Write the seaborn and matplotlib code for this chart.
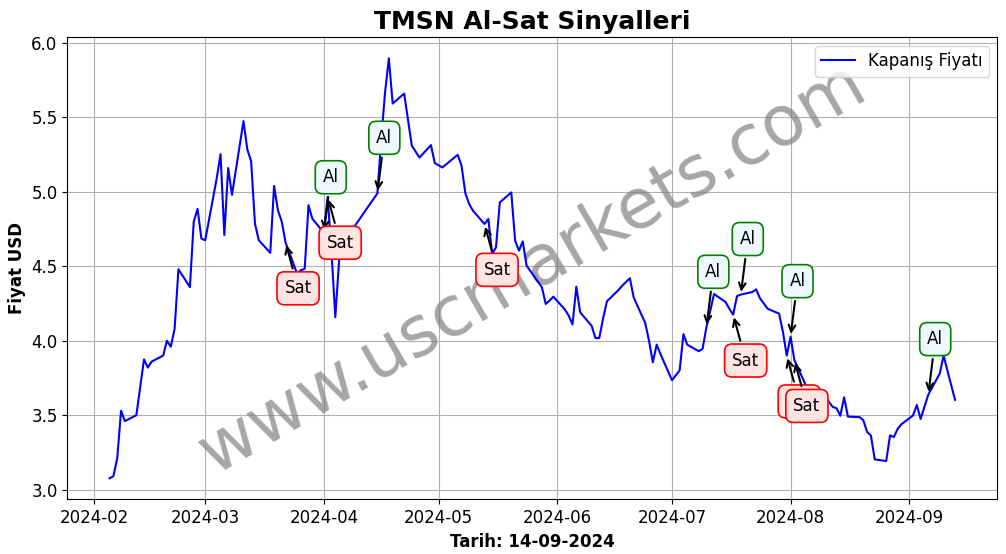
import matplotlib
matplotlib.use("Agg")
import matplotlib.pyplot as plt
import seaborn as sns
import pandas as pd

dates = [
    "2024-02-05", "2024-02-06", "2024-02-07", "2024-02-08", "2024-02-09",
    "2024-02-12", "2024-02-14", "2024-02-15", "2024-02-16", "2024-02-19",
    "2024-02-20", "2024-02-21", "2024-02-22", "2024-02-23", "2024-02-26",
    "2024-02-27", "2024-02-28", "2024-02-29", "2024-03-01", "2024-03-04",
    "2024-03-05", "2024-03-06", "2024-03-07", "2024-03-08", "2024-03-11",
    "2024-03-12", "2024-03-13", "2024-03-14", "2024-03-15", "2024-03-18",
    "2024-03-19", "2024-03-20", "2024-03-21", "2024-03-22", "2024-03-25",
    "2024-03-26", "2024-03-27", "2024-03-28", "2024-03-29", "2024-04-01",
    "2024-04-02", "2024-04-03", "2024-04-04", "2024-04-05", "2024-04-08",
    "2024-04-15", "2024-04-16", "2024-04-17", "2024-04-18", "2024-04-19",
    "2024-04-22", "2024-04-24", "2024-04-26", "2024-04-29", "2024-04-30",
    "2024-05-02", "2024-05-06", "2024-05-07", "2024-05-08", "2024-05-09",
    "2024-05-10", "2024-05-13", "2024-05-14", "2024-05-15", "2024-05-16",
    "2024-05-17", "2024-05-20", "2024-05-21", "2024-05-22", "2024-05-23",
    "2024-05-24", "2024-05-28", "2024-05-29", "2024-05-30", "2024-05-31",
    "2024-06-03", "2024-06-04", "2024-06-05", "2024-06-06", "2024-06-07",
    "2024-06-10", "2024-06-11", "2024-06-12", "2024-06-13", "2024-06-14",
    "2024-06-17", "2024-06-18", "2024-06-20", "2024-06-21", "2024-06-24",
    "2024-06-25", "2024-06-26", "2024-06-27", "2024-06-28", "2024-07-01",
    "2024-07-03", "2024-07-04", "2024-07-05", "2024-07-08", "2024-07-09",
    "2024-07-10", "2024-07-11", "2024-07-12", "2024-07-15", "2024-07-16",
    "2024-07-17", "2024-07-18", "2024-07-19", "2024-07-22", "2024-07-23",
    "2024-07-24", "2024-07-25", "2024-07-26", "2024-07-29", "2024-07-30",
    "2024-07-31", "2024-08-01", "2024-08-02", "2024-08-05", "2024-08-06",
    "2024-08-07", "2024-08-08", "2024-08-09", "2024-08-12", "2024-08-13",
    "2024-08-14", "2024-08-15", "2024-08-16", "2024-08-19", "2024-08-20",
    "2024-08-21", "2024-08-22", "2024-08-23", "2024-08-26", "2024-08-27",
    "2024-08-28", "2024-08-29", "2024-08-30", "2024-09-02", "2024-09-03",
    "2024-09-04", "2024-09-05", "2024-09-06", "2024-09-09", "2024-09-10",
    "2024-09-11", "2024-09-12", "2024-09-13",
]

prices = [
    3.076, 3.09, 3.21, 3.53, 3.46,
    3.50, 3.875, 3.82, 3.86, 3.90,
    4.00, 3.96, 4.08, 4.48, 4.36,
    4.80, 4.886, 4.686, 4.675, 5.09,
    5.253, 4.71, 5.16, 4.98, 5.475,
    5.285, 5.206, 4.787, 4.675, 4.59,
    5.04, 4.877, 4.80, 4.66, 4.452,
    4.474, 4.483, 4.91, 4.82, 4.725,
    4.966, 4.60, 4.158, 4.54, 4.73,
    4.99, 5.35, 5.667, 5.897, 5.593,
    5.66, 5.31, 5.23, 5.314, 5.193,
    5.164, 5.249, 5.175, 4.99, 4.918,
    4.873, 4.784, 4.818, 4.583, 4.627,
    4.929, 4.996, 4.672, 4.605, 4.667,
    4.504, 4.359, 4.247, 4.27, 4.296,
    4.21, 4.169, 4.109, 4.363, 4.191,
    4.10, 4.018, 4.018, 4.15, 4.265,
    4.34, 4.37, 4.42, 4.29, 4.12,
    4.00, 3.855, 3.974, 3.91, 3.735,
    3.80, 4.044, 3.973, 3.93, 3.945,
    4.09, 4.20, 4.314, 4.26, 4.215,
    4.175, 4.30, 4.31, 4.327, 4.345,
    4.285, 4.25, 4.215, 4.182, 4.06,
    3.90, 4.027, 3.87, 3.70, 3.62,
    3.63, 3.69, 3.66, 3.556, 3.547,
    3.496, 3.62, 3.49, 3.487, 3.467,
    3.388, 3.364, 3.203, 3.192, 3.364,
    3.353, 3.408, 3.44, 3.498, 3.569,
    3.475, 3.556, 3.638, 3.78, 3.90,
    3.80, 3.70, 3.603,
]

buy_dates = ["2024-04-01", "2024-04-15", "2024-07-10", "2024-07-19", "2024-08-01", "2024-09-06"]
sell_dates = ["2024-03-22", "2024-04-02", "2024-05-13", "2024-07-17", "2024-07-31", "2024-08-02"]

title = "TMSN Al-Sat Sinyalleri"
xlabel = "Tarih: 14-09-2024"
ylabel = "Fiyat USD"
legend_label = "Kapanış Fiyatı"
watermark = "www.uscmarkets.com"

plt.rcParams["font.size"] = 12
plt.rcParams["font.family"] = ["DejaVu Sans"]

df = pd.DataFrame({"Tarih": pd.to_datetime(dates), "Fiyat": prices})
price_of = dict(zip(df["Tarih"], df["Fiyat"]))

fig = plt.figure(figsize=(10.06, 5.54), dpi=100)
ax = fig.add_axes([0.0669, 0.0987, 0.9914 - 0.0669, 0.9327 - 0.0987])

sns.lineplot(data=df, x="Tarih", y="Fiyat", ax=ax, color="blue", linewidth=1.5,
             label=legend_label, zorder=3)

ax.grid(True)
ax.set_title(title, fontsize=18, fontweight="bold")
ax.set_xlabel(xlabel, fontsize=12, fontweight="bold")
ax.set_ylabel(ylabel, fontsize=12, fontweight="bold")
ax.legend(loc="upper right", fontsize=12)

ax.text(0.5, 0.5, watermark, transform=ax.transAxes, fontsize=50, color="gray",
        alpha=0.7, rotation=30, ha="center", va="center", zorder=2)

def mark(ds, text, offset, fc, ec):
    for d in ds:
        t = pd.Timestamp(d)
        ax.annotate(text, xy=(t, price_of[t]), xytext=offset, textcoords="offset points",
                    ha="center", va="center", fontsize=12, zorder=5,
                    bbox=dict(boxstyle="round,pad=0.45", fc=fc, ec=ec, lw=1.2),
                    arrowprops=dict(arrowstyle="->", color="black", lw=1.5))

mark(buy_dates, "Al", (5, 40), "#f0f8ff", "green")
mark(sell_dates, "Sat", (9, -33), "#ffe4e1", "red")

fig.savefig("out.png", dpi=100)
